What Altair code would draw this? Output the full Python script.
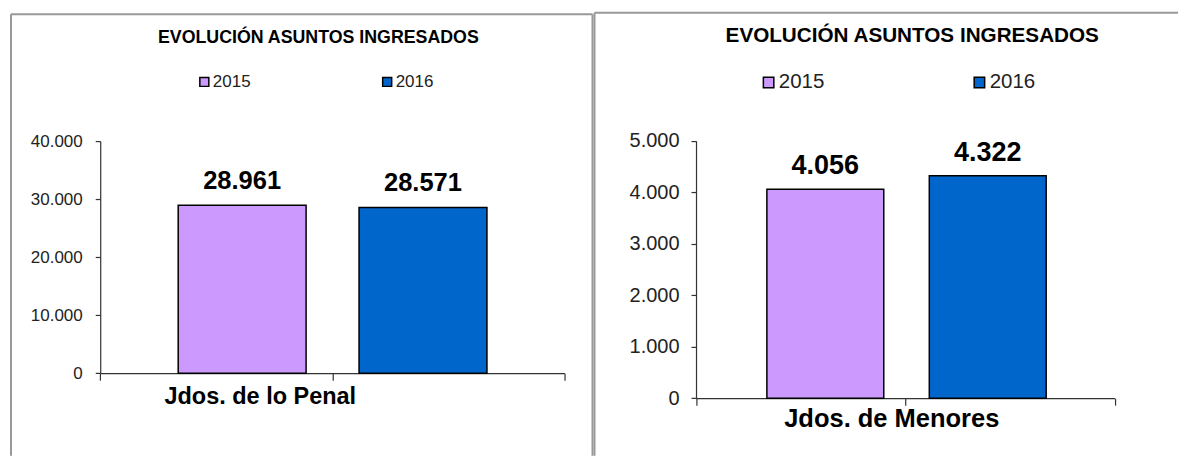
import altair as alt
import pandas as pd

TITLE = "EVOLUCIÓN ASUNTOS INGRESADOS"
YEARS = ["2015", "2016"]
COLORS = ["#CC99FF", "#0066CC"]
CATEGORIES = ["Jdos. de lo Penal", "Jdos. de Menores"]
VALUES_PENAL = [28961, 28571]
VALUES_MENORES = [4056, 4322]
TICKS_PENAL = [0, 10000, 20000, 30000, 40000]
TICKS_MENORES = [0, 1000, 2000, 3000, 4000, 5000]

FONT = "Liberation Sans"
H = 448


def es(v):
    return f"{v:,}".replace(",", ".")


def panel(category, values, ticks, s):
    df = pd.DataFrame({"year": YEARS, "value": values, "label": [es(v) for v in values]})
    one = pd.DataFrame({"k": [0]})

    xs = alt.Scale(domain=YEARS, range=s["xr"], paddingInner=0, paddingOuter=0)
    ys = alt.Scale(domain=[ticks[0], ticks[-1]], range=s["yr"], nice=False, zero=True)
    cs = alt.Scale(domain=YEARS, range=COLORS)

    x_axis = alt.Axis(
        labels=False, tickBand="extent", offset=s["xoff"], tickSize=7,
        domainColor="#333", tickColor="#333", domainWidth=1.2, tickWidth=1.2,
        title=category, titleX=s["cat_x"], titleY=s["cat_y"], titleAlign="center",
        titleBaseline="alphabetic", titleFont=FONT, titleFontSize=s["cat_fs"],
        titleFontWeight="bold", titleColor="#000", grid=False,
    )
    y_axis = alt.Axis(
        values=ticks, labelExpr="replace(format(datum.value, ','), ',', '.')",
        offset=s["yoff"], tickSize=5, labelPadding=s["lp"], grid=False,
        domainColor="#333", tickColor="#333", domainWidth=1.2, tickWidth=1.2,
        labelFont=FONT, labelFontSize=s["yl_fs"], labelColor="#222", title=None,
    )
    legend = alt.Legend(
        orient="none", legendX=s["lx"], legendY=s["ly"], direction="horizontal",
        title=None, symbolType="square", symbolSize=s["sym"], symbolStrokeColor="#000",
        symbolStrokeWidth=1.5, symbolOpacity=1, labelFont=FONT,
        labelFontSize=s["lg_fs"], labelColor="#222", labelOffset=s["lo"],
        columnPadding=s["cp"], padding=0,
    )

    layers = []
    for i, yr in enumerate(YEARS):
        base = alt.Chart(df).transform_filter(alt.datum.year == yr)
        bar = base.mark_bar(
            width=alt.RelativeBandSize(band=s["bw"]), xOffset=s["offs"][i],
            stroke="#000", strokeWidth=1.5,
        ).encode(
            x=alt.X("year:N", scale=xs, axis=x_axis),
            y=alt.Y("value:Q", scale=ys, axis=y_axis),
            color=alt.Color("year:N", scale=cs, legend=legend),
        )
        txt = base.mark_text(
            xOffset=s["offs"][i], dy=s["dy"], baseline="alphabetic", align="center",
            font=FONT, fontSize=s["val_fs"], fontWeight="bold", color="#000",
        ).encode(
            x=alt.X("year:N", scale=xs, axis=x_axis),
            y=alt.Y("value:Q", scale=ys, axis=y_axis),
            text="label:N",
        )
        layers += [bar, txt]

    title = alt.Chart(one).mark_text(
        font=FONT, fontSize=s["t_fs"], fontWeight="bold", color="#000",
        align="center", baseline="alphabetic",
    ).encode(x=alt.value(s["tx"]), y=alt.value(s["ty"]), text=alt.value(TITLE))

    border = []
    for b in s["border"]:
        border.append(
            alt.Chart(one).mark_rule(color="#999", strokeWidth=2).encode(
                x=alt.value(b[0]), x2=alt.value(b[1]), y=alt.value(b[2]), y2=alt.value(b[3])
            )
        )

    return alt.layer(*layers, title, *border).properties(
        width=s["w"], height=H, view=alt.ViewBackground(stroke="transparent", strokeWidth=0)
    )


left = panel(CATEGORIES[0], VALUES_PENAL, TICKS_PENAL, dict(
    w=586, xr=[92.3, 556.9], yr=[365.3, 133], xoff=365.3 - H, yoff=-92.3, lp=13,
    cat_x=252, cat_y=30, cat_fs=23.5, yl_fs=17,
    lx=188, ly=65, sym=81, lg_fs=17, lo=0, cp=128,
    bw=0.551, offs=[25.9, -25.4], dy=-16, val_fs=25.5,
    tx=310.6, ty=35.3, t_fs=17.8,
    border=[(3, 3, 6, H), (3, 585, 6, 6), (585, 585, 6, H)],
))

right = panel(CATEGORIES[1], VALUES_MENORES, TICKS_MENORES, dict(
    w=585, xr=[102.6, 521.5], yr=[390.3, 132.7], xoff=390.3 - H, yoff=-102.6, lp=12,
    cat_x=298, cat_y=28.5, cat_fs=25.5, yl_fs=20,
    lx=165, ly=64, sym=110, lg_fs=20.5, lo=0, cp=144,
    bw=0.5585, offs=[24.7, -22.2], dy=-15, val_fs=27,
    tx=319, ty=33.7, t_fs=20.7,
    border=[(1, 1, 4.5, H), (1, 585, 4.5, 4.5)],
))

chart = (
    alt.hconcat(left, right, spacing=0, bounds="flush")
    .resolve_scale(color="independent", x="independent", y="independent")
    .properties(padding=0)
    .configure_view(stroke="transparent", strokeWidth=0)
    .configure(font=FONT)
)

chart.save("out.html", embed_options={"renderer": "svg", "actions": False})
